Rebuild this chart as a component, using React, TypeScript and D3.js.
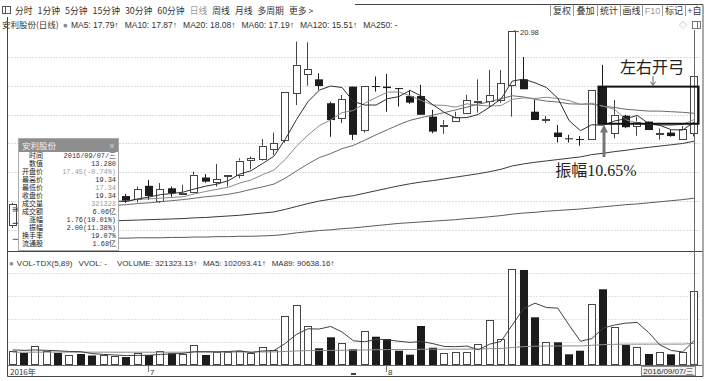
import React from "react";
import * as d3 from "d3";

// ---------- data ----------
const opens = [14.78, 15.32, 15.19, 15.46, 15.54, 15.38, 15.49, 15.38, 15.32, 15.43,
  15.57, 15.48, 15.86, 15.41, 15.79, 15.66, 15.69, 16.10, 15.95, 16.16,
  16.18, 16.60, 16.64, 16.94, 17.25, 18.77, 19.40, 19.22, 18.41, 17.92,
  18.97, 17.54, 18.99, 18.97, 18.92, 18.65, 18.65, 17.97, 17.69, 17.84,
  18.10, 18.49, 18.50, 18.52, 19.03, 19.22, 18.13, 17.87, 17.46, 17.28,
  17.26, 17.25, 18.97, 17.44, 18.00, 17.67, 17.81, 17.43, 17.46, 17.28, 17.45];
const highs = [15.38, 15.38, 15.57, 15.63, 15.60, 15.54, 15.52, 15.43, 15.49, 15.57,
  15.63, 15.84, 16.03, 15.94, 15.84, 15.89, 16.27, 16.20, 16.50, 16.18,
  16.67, 16.72, 17.26, 17.46, 18.80, 20.58, 20.55, 19.43, 18.46, 18.69,
  18.97, 18.99, 19.32, 19.41, 18.92, 18.86, 19.03, 18.19, 17.86, 18.13,
  18.69, 19.22, 19.55, 19.55, 20.98, 20.01, 18.52, 17.99, 17.70, 17.39,
  17.35, 18.85, 19.73, 18.52, 18.03, 17.97, 17.81, 17.59, 17.54, 17.67, 19.34];
const lows = [14.70, 15.10, 15.13, 15.41, 15.32, 15.32, 15.32, 15.27, 15.29, 15.41,
  15.38, 15.39, 15.46, 15.38, 15.55, 15.60, 15.65, 15.95, 15.84, 15.84,
  16.08, 16.34, 16.60, 16.77, 17.14, 18.35, 19.00, 18.86, 17.33, 17.76,
  17.23, 17.46, 18.80, 18.13, 18.30, 18.39, 18.03, 17.44, 17.42, 17.83,
  18.08, 18.10, 18.26, 18.42, 17.97, 18.88, 17.86, 17.76, 17.15, 17.15,
  17.05, 17.23, 17.72, 17.28, 17.60, 17.36, 17.54, 17.24, 17.33, 17.28, 17.34];
const closes = [15.35, 15.19, 15.52, 15.57, 15.38, 15.49, 15.38, 15.32, 15.43, 15.52,
  15.44, 15.76, 15.57, 15.76, 15.65, 15.67, 16.18, 15.98, 16.05, 16.18,
  16.60, 16.67, 17.05, 17.13, 18.80, 19.73, 19.58, 18.99, 17.86, 18.54,
  17.39, 18.99, 18.96, 18.92, 18.91, 18.43, 18.03, 17.49, 17.71, 17.97,
  18.52, 18.50, 18.69, 19.09, 20.98, 18.88, 17.86, 17.88, 17.32, 17.27,
  17.25, 18.85, 17.74, 18.03, 17.63, 17.81, 17.54, 17.44, 17.35, 17.58, 19.34];
const volumes = [57200, 48400, 79200, 57200, 48400, 41800, 44000, 37400, 39600, 35200,
  30800, 47100, 39600, 57200, 47100, 44000, 83600, 39600, 54100, 54100,
  58500, 47100, 73500, 61600, 211200, 259600, 168500, 69100, 117500, 91100,
  64700, 146500, 120100, 110000, 58500, 40900, 167200, 71700, 47100, 54100,
  54100, 86700, 193600, 108700, 416700, 413600, 205500, 98100, 95500, 42700,
  58500, 264000, 328700, 164100, 83600, 73500, 44000, 54100, 42700, 51500, 321323];

const ma5 = [15.20, 15.22, 15.30, 15.38, 15.40, 15.43, 15.47, 15.43, 15.40, 15.43,
  15.42, 15.49, 15.54, 15.61, 15.64, 15.68, 15.77, 15.85, 15.91, 16.01,
  16.20, 16.30, 16.51, 16.73, 17.25, 17.88, 18.46, 18.85, 18.99, 18.94,
  18.47, 18.35, 18.35, 18.56, 18.63, 18.84, 18.65, 18.36, 18.11, 17.93,
  17.94, 18.04, 18.28, 18.55, 19.16, 19.23, 19.10, 18.94, 18.58, 17.84,
  17.52, 17.71, 17.69, 17.83, 17.90, 18.01, 17.75, 17.69, 17.55, 17.54, 17.79];
const ma10 = [15.25, 15.27, 15.30, 15.33, 15.35, 15.37, 15.39, 15.40, 15.41, 15.42,
  15.42, 15.48, 15.49, 15.51, 15.53, 15.55, 15.63, 15.70, 15.76, 15.82,
  15.94, 16.03, 16.18, 16.32, 16.63, 17.04, 17.38, 17.68, 17.86, 18.10,
  18.17, 18.41, 18.60, 18.78, 18.79, 18.66, 18.50, 18.35, 18.34, 18.28,
  18.39, 18.34, 18.32, 18.33, 18.54, 18.59, 18.57, 18.61, 18.57, 18.50,
  18.37, 18.41, 18.31, 18.21, 17.87, 17.76, 17.73, 17.69, 17.69, 17.72, 17.87];
const ma20 = [15.15, 15.17, 15.19, 15.21, 15.22, 15.24, 15.26, 15.27, 15.29, 15.31,
  15.33, 15.36, 15.38, 15.41, 15.44, 15.47, 15.51, 15.55, 15.58, 15.62,
  15.68, 15.76, 15.83, 15.91, 16.08, 16.29, 16.50, 16.69, 16.81, 16.96,
  17.06, 17.22, 17.39, 17.55, 17.71, 17.85, 17.94, 18.02, 18.10, 18.19,
  18.28, 18.38, 18.46, 18.56, 18.66, 18.62, 18.54, 18.48, 18.45, 18.39,
  18.38, 18.38, 18.31, 18.27, 18.21, 18.18, 18.15, 18.15, 18.13, 18.11, 18.08];
const ma60 = [14.82, 14.83, 14.84, 14.85, 14.86, 14.86, 14.87, 14.88, 14.88, 14.89,
  14.90, 14.91, 14.92, 14.93, 14.94, 14.95, 14.97, 14.98, 15.00, 15.02,
  15.04, 15.07, 15.10, 15.13, 15.20, 15.28, 15.36, 15.43, 15.48, 15.54,
  15.58, 15.65, 15.72, 15.79, 15.86, 15.92, 15.97, 16.01, 16.06, 16.11,
  16.16, 16.21, 16.27, 16.34, 16.44, 16.50, 16.55, 16.59, 16.63, 16.67,
  16.71, 16.78, 16.82, 16.87, 16.91, 16.96, 17.00, 17.04, 17.08, 17.12, 17.19];
const ma120 = [14.40, 14.40, 14.41, 14.41, 14.41, 14.42, 14.42, 14.42, 14.43, 14.43,
  14.43, 14.44, 14.44, 14.44, 14.45, 14.45, 14.46, 14.46, 14.47, 14.47,
  14.48, 14.48, 14.49, 14.50, 14.53, 14.57, 14.60, 14.63, 14.65, 14.68,
  14.70, 14.73, 14.76, 14.79, 14.82, 14.84, 14.86, 14.88, 14.90, 14.92,
  14.95, 14.97, 15.00, 15.03, 15.07, 15.10, 15.12, 15.15, 15.17, 15.19,
  15.21, 15.24, 15.27, 15.30, 15.33, 15.35, 15.38, 15.41, 15.44, 15.47, 15.51];
const volMa5 = [62000, 60000, 62000, 60000, 58080, 55000, 54120, 45760, 42240, 39600,
  37400, 38020, 38460, 41980, 44360, 47000, 54300, 54300, 53680, 55080,
  57980, 50680, 57460, 58960, 90380, 130600, 154880, 154000, 165180, 141160,
  102180, 97780, 107980, 106480, 99960, 95200, 99340, 89660, 77080, 76200,
  78840, 62740, 87120, 99440, 171960, 243860, 267620, 248520, 245880, 171080,
  100060, 111760, 157880, 171600, 179780, 182780, 138780, 83860, 59580, 53160, 102093];
const volMa89 = [51676, 51714, 52098, 52235, 52273, 52237, 52226, 52141, 52080, 51970,
  51810, 51834, 51773, 51910, 51934, 51923, 52357, 52296, 52398, 52500,
  52652, 52676, 52996, 53182, 55049, 57460, 58848, 59119, 59933, 60451,
  60672, 61812, 62656, 63386, 63538, 63492, 64865, 65165, 65188, 65290,
  65392, 65860, 67529, 68245, 72421, 76562, 78365, 78962, 79529, 79503,
  79655, 82116, 85303, 86641, 87074, 87394, 87383, 87486, 87460, 87533, 90638];

const monthTickIdx = [0, 12, 33];
const monthTickLabels = ["2016年", "7", "8"];
const lastDateLabel = "2016/09/07/三";
const toolbarItems = ["分时", "1分钟", "5分钟", "15分钟", "30分钟", "60分钟", "日线", "周线", "月线", "多周期", "更多 >"];
const rightTools = ["复权", "叠加", "统计", "画线", "F10", "标记", "+自"];
const stockTitle = "安利股份(日线)";
const maLegend = ["MA5: 17.79↑", "MA10: 17.87↑", "MA20: 18.08↑", "MA60: 17.19↑", "MA120: 15.51↑", "MA250: -"];
const volLegend = ["VOL-TDX(5,89)", "VVOL: -", "VOLUME: 321323.13↑", "MA5: 102093.41↑", "MA89: 90638.16↑"];
const infoTitle = "安利股份";
const infoLabels = ["时间", "数值", "开盘价", "最高价", "最低价", "收盘价", "成交量", "成交额", "涨幅", "振幅", "换手率", "流通股"];
const infoValues = ["2016/09/07/三", "13.280", "17.45(-0.74%)", "19.34", "17.34", "19.34", "321323", "6.06亿", "1.76(10.01%)", "2.00(11.38%)", "19.07%", "1.68亿"];
const infoDim = [false, false, true, false, true, false, true, false, false, false, false, false];
const highMarkIdx = 44;
const boxLabel = "左右开弓";
const ampLabel = "振幅10.65%";
const boxStartIdx = 52;
const boxEndIdx = 60;

// ---------- styling ----------
const UI_FONT = "'Liberation Sans', 'Noto Sans CJK SC', sans-serif";
const CJK_FONT = "'Noto Sans CJK SC', sans-serif";
const MONO_FONT = "'Liberation Mono', 'Noto Sans CJK SC', monospace";
const UP = "#454545";
const DOWN = "#1c1c1c";

export default function App() {
  const n = closes.length;
  const L = 7.5, R = 702.5;
  const mainTop = 17, mainBot = 251;
  const volBase = 364;

  const x = d3.scaleLinear().domain([0, n - 1]).range([12.7, 694]);
  const y = d3.scaleLog().domain([14.1, 21.51]).range([mainBot, mainTop]);
  const yv = d3.scaleLinear().domain([0, 484000]).range([volBase, 254]);
  const cx = (i: number) => Math.round(x(i));

  const mainLine = (arr: number[]) =>
    d3.line<number>().x((_, i) => x(i)).y((d) => y(d))(arr) || "";
  const volLine = (arr: number[]) =>
    d3.line<number>().x((_, i) => x(i)).y((d) => yv(d))(arr) || "";

  const mainGrid = d3.range(7).map((k) => 57 + k * 28.8);
  const volGrid = d3.range(4).map((k) => 273 + k * 23);

  const maSeries = [
    { d: ma120, c: "#5a5a5a" },
    { d: ma60, c: "#3a3a3a" },
    { d: ma20, c: "#6a6a6a" },
    { d: ma10, c: "#8a8a8a" },
    { d: ma5, c: "#303030" },
  ];

  const cellEdges = [550, 573, 597, 620, 642, 662, 685, 703];

  const infoX0 = 18, infoX1 = 118, infoY0 = 138, infoY1 = 250;
  const rowStep = 8;
  const rowY0 = 158.3;

  const boxL = cx(boxStartIdx) - 4.5;
  const boxR = cx(boxEndIdx) + 4.5;
  const boxT = y(opens[boxStartIdx]);
  const boxB = y(closes[boxStartIdx]);
  const arrowX = cx(boxStartIdx) + 1;

  return (
    <div style={{ position: "absolute", left: 0, top: 0 }}>
      <svg width={709} height={381} style={{ display: "block", background: "#fff" }}>
        <rect x={0} y={0} width={709} height={381} fill="#fff" />
        <defs>
          <clipPath id="mainClip">
            <rect x={L + 0.5} y={mainTop} width={R - L - 1} height={mainBot - mainTop} />
          </clipPath>
          <clipPath id="volClip">
            <rect x={L + 0.5} y={252} width={R - L - 1} height={volBase - 252 + 1} />
          </clipPath>
        </defs>

        {/* ---------- top toolbar ---------- */}
        <rect x={2.5} y={6.5} width={8} height={7} fill="none" stroke="#555" />
        <line x1={5.5} y1={6.5} x2={5.5} y2={13.5} stroke="#555" />
        <text x={15} y={13.5} fontSize={8.8} fontFamily={CJK_FONT} fill="#333">
          {toolbarItems.map((s, k) => (
            <tspan key={k} dx={k ? 5 : 0} fill={s === "日线" ? "#9a9a9a" : "#333"}>{s}</tspan>
          ))}
        </text>
        <line x1={355} y1={4.5} x2={703} y2={4.5} stroke="#444" />
        {rightTools.map((s, k) => (
          <g key={k}>
            <line x1={cellEdges[k] + 0.5} y1={4.5} x2={cellEdges[k] + 0.5} y2={16} stroke="#999" />
            <text x={(cellEdges[k] + cellEdges[k + 1]) / 2 + 0.5} y={13.5} fontSize={9} textAnchor="middle"
              fontFamily={UI_FONT} fill={s === "F10" ? "#999" : "#333"}>{s}</text>
          </g>
        ))}
        <line x1={703} y1={4.5} x2={703} y2={376.5} stroke="#555" />

        {/* ---------- title row ---------- */}
        <text x={2} y={28} fontSize={8.5} fontFamily={UI_FONT} fill="#333">
          <tspan fontFamily={CJK_FONT}>{stockTitle}</tspan>
          <tspan dx={4} fill="#8a8a8a">●</tspan>
          {maLegend.map((s, k) => (
            <tspan key={k} dx={k ? 6 : 3}>{s}</tspan>
          ))}
        </text>
        <text x={683} y={27.5} fontSize={8} fontFamily={UI_FONT} fill="#888" textAnchor="middle">◇</text>
        <rect x={692.5} y={21.5} width={8} height={7} fill="none" stroke="#777" />
        <line x1={697.5} y1={21.5} x2={697.5} y2={28.5} stroke="#777" />

        {/* ---------- frame ---------- */}
        <line x1={L} y1={17} x2={L} y2={376.5} stroke="#444" />
        <line x1={L} y1={mainBot + 0.5} x2={R} y2={mainBot + 0.5} stroke="#444" />
        <line x1={L} y1={volBase + 1.5} x2={R} y2={volBase + 1.5} stroke="#666" />
        <line x1={L} y1={376.5} x2={703} y2={376.5} stroke="#444" />

        {/* grid */}
        {mainGrid.map((g, k) => (
          <line key={k} x1={L + 1} x2={R - 1} y1={Math.round(g) + 0.5} y2={Math.round(g) + 0.5}
            stroke="#b8b8b8" strokeDasharray="1,2" />
        ))}
        {volGrid.map((g, k) => (
          <line key={k} x1={L + 1} x2={R - 1} y1={g + 0.5} y2={g + 0.5} stroke="#c4c4c4" strokeDasharray="1,2" />
        ))}

        {/* ---------- candles ---------- */}
        <g clipPath="url(#mainClip)">
          {closes.map((c, i) => {
            const o = opens[i];
            const up = c >= o;
            const xc = cx(i);
            const top = y(Math.max(o, c));
            const bot = y(Math.min(o, c));
            const hh = Math.max(bot - top, 1);
            const wx = xc - 0.5;
            if (up) {
              return (
                <g key={i} stroke={UP} fill="#fff">
                  <line x1={wx} x2={wx} y1={y(highs[i])} y2={top} />
                  <line x1={wx} x2={wx} y1={top + hh} y2={y(lows[i])} />
                  <rect x={xc - 3.5} y={Math.round(top) + 0.5} width={7} height={Math.max(Math.round(hh), 1)} />
                </g>
              );
            }
            return (
              <g key={i}>
                <line x1={wx} x2={wx} y1={y(highs[i])} y2={y(lows[i])} stroke={DOWN} />
                <rect x={xc - 4} y={top} width={8} height={hh} fill={DOWN} />
              </g>
            );
          })}
          {maSeries.map((s, k) => (
            <path key={k} d={mainLine(s.d)} fill="none" stroke={s.c} strokeWidth={1} />
          ))}
        </g>

        {/* high marker */}
        <line x1={cx(highMarkIdx) + 2} y1={y(highs[highMarkIdx])} x2={cx(highMarkIdx) + 7} y2={y(highs[highMarkIdx]) + 1}
          stroke="#555" />
        <text x={cx(highMarkIdx) + 8} y={y(highs[highMarkIdx]) + 4} fontSize={7.5} fontFamily={UI_FONT} fill="#333">
          {highs[highMarkIdx].toFixed(2)}
        </text>

        {/* ---------- volume ---------- */}
        <text x={9} y={266} fontSize={8} fontFamily={UI_FONT} fill="#333">
          <tspan fill="#8a8a8a">●</tspan>
          {volLegend.map((s, k) => (
            <tspan key={k} dx={k === 0 ? 3 : k === 2 ? 10 : 6}>{s}</tspan>
          ))}
        </text>
        <g clipPath="url(#volClip)">
          {volumes.map((v, i) => {
            const up = closes[i] >= opens[i];
            const xc = cx(i);
            const t = yv(v);
            return up ? (
              <rect key={i} x={xc - 3.5} y={Math.round(t) + 0.5} width={7} height={volBase - Math.round(t)}
                fill="#fff" stroke={UP} />
            ) : (
              <rect key={i} x={xc - 4} y={t} width={8} height={volBase + 1 - t} fill={DOWN} />
            );
          })}
          <path d={volLine(volMa89)} fill="none" stroke="#8c8c8c" />
          <path d={volLine(volMa5)} fill="none" stroke="#404040" />
        </g>

        {/* ---------- date axis ---------- */}
        {monthTickIdx.map((idx, k) => (
          <g key={k}>
            {k > 0 && <line x1={cx(idx) - 0.5} x2={cx(idx) - 0.5} y1={366} y2={372} stroke="#777" />}
            <text x={k === 0 ? 10 : cx(idx) + 1} y={374.5} fontSize={8} fontFamily={k === 0 ? CJK_FONT : UI_FONT} fill="#333">
              {monthTickLabels[k]}
            </text>
          </g>
        ))}
        <rect x={351} y={373} width={5} height={2} fill="#444" />
        <rect x={641.5} y={366.5} width={54} height={9} fill="#f2f2f2" stroke="#888" />
        <text x={668.5} y={374.3} fontSize={8} textAnchor="middle" fontFamily={UI_FONT} fill="#333">{lastDateLabel}</text>

        {/* crosshair */}
        <line x1={cx(n - 1) + 0.5} x2={cx(n - 1) + 0.5} y1={30} y2={volBase + 1} stroke="#6a6a6a" />

        {/* ---------- info box ---------- */}
        <rect x={infoX0 + 0.5} y={infoY0 + 0.5} width={infoX1 - infoX0} height={infoY1 - infoY0} fill="#fff" stroke="#aaa" />
        <rect x={infoX0 + 1} y={infoY0 + 1} width={infoX1 - infoX0 - 1} height={13} fill="#8e8e8e" />
        <text x={infoX0 + 4} y={infoY0 + 11} fontSize={8.5} fontFamily={CJK_FONT} fill="#f0f0f0">{infoTitle}</text>
        <text x={infoX1 - 6} y={infoY0 + 11} fontSize={9} fontFamily={UI_FONT} fill="#d8d8d8" textAnchor="middle">×</text>
        {infoLabels.map((s, k) => (
          <text key={k} x={43} y={rowY0 + k * rowStep} fontSize={7} fontFamily={UI_FONT} fill="#222" textAnchor="end">{s}</text>
        ))}
        {infoValues.map((s, k) => (
          <text key={k} x={116} y={rowY0 + k * rowStep} fontSize={6.9} fontFamily={MONO_FONT} textAnchor="end"
            fill={infoDim[k] ? "#9a9a9a" : "#333"}>{s}</text>
        ))}

        {/* ---------- annotations ---------- */}
        <rect x={boxL} y={boxT} width={boxR - boxL} height={boxB - boxT} fill="none" stroke="#111" strokeWidth={2} />
        <text x={652} y={73} fontSize={16} fontFamily={CJK_FONT} fill="#222" textAnchor="middle">{boxLabel}</text>
        <line x1={653} y1={76} x2={653} y2={boxT - 2} stroke="#666" />
        <path d={`M650.5,${boxT - 5} L653,${boxT - 1} L655.5,${boxT - 5}`} fill="none" stroke="#666" />
        <line x1={arrowX} x2={arrowX} y1={157} y2={y(lows[boxStartIdx]) + 7} stroke="#777" strokeWidth={3} />
        <path d={`M${arrowX - 4},${y(lows[boxStartIdx]) + 8} L${arrowX},${y(lows[boxStartIdx])} L${arrowX + 4},${y(lows[boxStartIdx]) + 8} Z`}
          fill="#777" />
        <text x={596} y={176} fontSize={16} fontFamily={"'Liberation Serif', 'Noto Sans CJK SC', serif"} fill="#222" textAnchor="middle">{ampLabel}</text>
      </svg>
    </div>
  );
}
